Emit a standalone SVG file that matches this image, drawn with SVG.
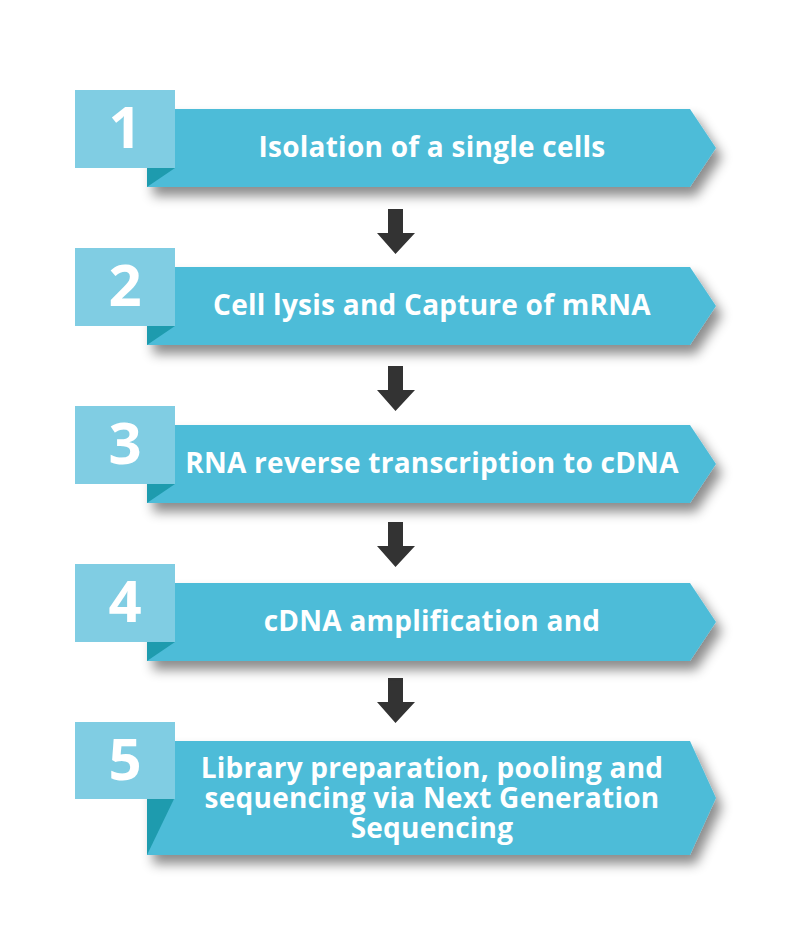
<svg xmlns="http://www.w3.org/2000/svg" width="791" height="945" viewBox="0 0 791 945">
<defs>
<style>
.sq{fill:#80CDE3}
.bn{fill:#4EBCD8}
.fd{fill:#1E9BAE}
.num{font-family:"Open Sans",sans-serif;font-weight:700;font-size:58px;fill:#fff;text-anchor:middle}
.lbl{font-family:"Open Sans",sans-serif;font-weight:700;font-size:28px;letter-spacing:0.25px;fill:#fff;text-anchor:middle}
.arr{fill:#333333}
</style>
<filter id="sh" x="-10%" y="-20%" width="130%" height="160%">
<feDropShadow dx="6" dy="9" stdDeviation="6" flood-color="#000" flood-opacity="0.45"/>
</filter>
</defs>
<rect width="791" height="945" fill="#fff"/>
<g id="connectors">
<path class="arr" d="M388 209H403V233H415L395.5 254L377 233H388Z"/>
<path class="arr" d="M388 366H403V390H415L395.5 411L377 390H388Z"/>
<path class="arr" d="M388 522H403V546H415L395.5 567L377 546H388Z"/>
<path class="arr" d="M388 678H403V702H415L395.5 723L377 702H388Z"/>
</g>
<g id="step1">
<path class="bn" filter="url(#sh)" d="M147 109H690L716 148L690 187H147Z"/>
<path class="fd" d="M147 168H175L147 187Z"/>
<rect class="sq" x="75" y="90" width="100" height="78"/>
<text class="num" x="125" y="148">1</text>
<text class="lbl" x="432" y="157">Isolation of a single cells</text>
</g>
<g id="step2">
<path class="bn" filter="url(#sh)" d="M147 267H690L716 306L690 345H147Z"/>
<path class="fd" d="M147 326H175L147 345Z"/>
<rect class="sq" x="75" y="248" width="100" height="78"/>
<text class="num" x="125" y="306">2</text>
<text class="lbl" x="432" y="315">Cell lysis and Capture of mRNA</text>
</g>
<g id="step3">
<path class="bn" filter="url(#sh)" d="M147 425H690L716 464L690 503H147Z"/>
<path class="fd" d="M147 484H175L147 503Z"/>
<rect class="sq" x="75" y="406" width="100" height="78"/>
<text class="num" x="125" y="464">3</text>
<text class="lbl" x="432" y="473">RNA reverse transcription to cDNA</text>
</g>
<g id="step4">
<path class="bn" filter="url(#sh)" d="M147 583H690L716 622L690 661H147Z"/>
<path class="fd" d="M147 642H175L147 661Z"/>
<rect class="sq" x="75" y="564" width="100" height="78"/>
<text class="num" x="125" y="622">4</text>
<text class="lbl" x="432" y="631">cDNA amplification and</text>
</g>
<g id="step5">
<path class="bn" filter="url(#sh)" d="M147 741H690L716 798L690 855H147Z"/>
<path class="fd" d="M147 799H174L147 855Z"/>
<rect class="sq" x="75" y="722" width="100" height="77"/>
<text class="num" x="125" y="780">5</text>
<text class="lbl" x="432" y="778">Library preparation, pooling and</text>
<text class="lbl" x="432" y="808">sequencing via Next Generation</text>
<text class="lbl" x="432" y="838">Sequencing</text>
</g>
</svg>
